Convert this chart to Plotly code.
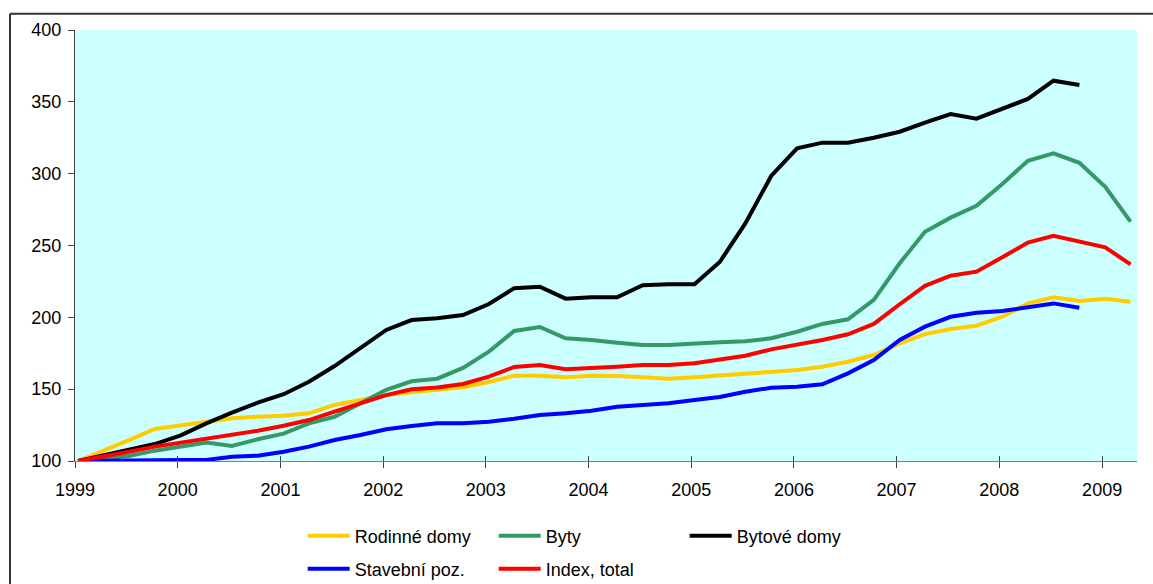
import pandas as pd
import plotly.graph_objects as go

# Quarterly price indices, 1999 Q1 = 100
quarters = pd.date_range("1999-01-01", periods=42, freq="QS") + pd.Timedelta(days=11)

rodinne_domy = [100, 107, 114.5, 122.3, 124.6, 127.4, 129.7, 130.8, 131.5, 133.2,
                139, 142.5, 146, 147.8, 149.4, 151.3, 155, 159.4, 159.4, 158.3,
                159.4, 159.2, 158.3, 157.3, 158.3, 159.6, 161, 161.7, 163.3, 165.6,
                169.1, 173.8, 181.9, 188.3, 191.9, 194.2, 200.4, 209.7, 213.9, 211.4,
                213, 210.9]
byty = [100, 101.4, 103.5, 107.2, 110, 112.8, 110.4, 115.1, 119, 126.2,
        130.8, 140.4, 149.6, 155.5, 157.3, 164.8, 176.1, 190.5, 193.3, 185.4,
        184.2, 182.3, 180.7, 180.7, 181.9, 182.6, 183.3, 185.4, 190, 195.4,
        198.6, 212.1, 237.6, 259.6, 269.4, 277.7, 292.8, 309, 314.2, 307.6,
        290.9, 266.6]
bytove_domy = [100, 103.7, 107.7, 111.8, 117.9, 126.2, 133.6, 140.6, 146.5, 155.2,
               166.1, 178.4, 191.2, 198.1, 199.3, 201.6, 209.3, 220.3, 221.3, 213,
               213.9, 213.9, 222.3, 223, 223, 238.5, 265.4, 298.4, 317.6, 321.6,
               321.6, 325, 329.2, 335.5, 341.5, 338.3, 345.5, 352, 364.7, 361.7,
               None, None]
stavebni_poz = [100, 100.3, 100.5, 100.7, 100.7, 100.7, 103, 103.7, 106.5, 110,
                114.6, 118.1, 122.1, 124.4, 126.2, 126.2, 127.4, 129.4, 132, 133.2,
                135, 137.8, 139, 140.2, 142.5, 144.5, 148.2, 151, 151.7, 153.4,
                161, 170.3, 184.2, 193.5, 200.4, 203.2, 204.4, 207.4, 209.7, 206.7,
                None, None]
index_total = [100, 103, 106.5, 110, 112.8, 115.8, 117.9, 121.1, 124.5, 128.5,
               134.3, 140.2, 145.9, 149.9, 151.2, 153.6, 158.7, 165.5, 166.8, 163.8,
               164.5, 165.6, 166.8, 166.8, 168, 170.3, 173.3, 177.7, 180.7, 184.2,
               188.2, 195.4, 209.1, 221.9, 229, 231.8, 241.8, 252, 256.8, 253.1,
               248.7, 236.9]

series = [
    ("Rodinné domy", rodinne_domy, "#FFCC00", "legend"),
    ("Byty", byty, "#339966", "legend"),
    ("Bytové domy", bytove_domy, "#000000", "legend"),
    ("Stavební poz.", stavebni_poz, "#0000FF", "legend2"),
    ("Index, total", index_total, "#FF0000", "legend2"),
]

year_ticks = [f"{y}-01-01" for y in range(1999, 2010)]
year_labels = [str(y) for y in range(1999, 2010)]

fig = go.Figure()
for name, values, color, leg in series:
    fig.add_trace(go.Scatter(
        x=quarters, y=values, name=name, mode="lines",
        line=dict(color=color, width=4), legend=leg,
    ))

# empty trace so the overlay axis (inner half of the x ticks) is drawn
fig.add_trace(go.Scatter(x=[], y=[], xaxis="x2", showlegend=False))

font = dict(family="Liberation Sans, Arial, sans-serif", size=18, color="black")
x_range = ["1999-01-01", "2009-05-05"]

legend_common = dict(
    orientation="h", xanchor="left", yanchor="middle", x=0.2144,
    bgcolor="rgba(0,0,0,0)", font=font, entrywidth=134, itemwidth=42,
    tracegroupgap=0,
)

fig.update_layout(
    width=1153, height=584,
    margin=dict(l=75, r=16, t=30, b=123, pad=0, autoexpand=False),
    paper_bgcolor="white", plot_bgcolor="#CCFFFF",
    font=font,
    xaxis=dict(
        type="date", range=x_range, tickvals=year_ticks, ticktext=year_labels,
        ticks="outside", ticklen=6, tickwidth=1, tickcolor="#404040",
        showline=True, linecolor="#808080", linewidth=1,
        showgrid=False, zeroline=False, tickfont=font, ticklabelstandoff=6,
    ),
    xaxis2=dict(
        type="date", range=x_range, overlaying="x", anchor="y", side="bottom",
        tickvals=year_ticks, ticks="inside", ticklen=5, tickwidth=1,
        tickcolor="#404040", showticklabels=False, showline=False,
        showgrid=False, zeroline=False,
    ),
    yaxis=dict(
        range=[100, 400], dtick=50, tick0=100,
        ticks="outside", ticklen=6, tickwidth=1, tickcolor="#404040",
        showline=True, linecolor="#404040", linewidth=1,
        showgrid=False, zeroline=False, tickfont=font, ticklabelstandoff=3,
    ),
    legend=dict(y=-0.174, **legend_common),
    legend2=dict(y=-0.2506, **legend_common),
    showlegend=True,
    shapes=[
        dict(type="line", xref="paper", yref="paper", x0=-0.0612, x1=-0.0612,
             y0=-0.4, y1=1.0378, line=dict(color="#333333", width=2)),
        dict(type="line", xref="paper", yref="paper", x0=-0.0612, x1=1.1,
             y0=1.0378, y1=1.0378, line=dict(color="#333333", width=2)),
    ],
)

fig.write_html("out.html")
